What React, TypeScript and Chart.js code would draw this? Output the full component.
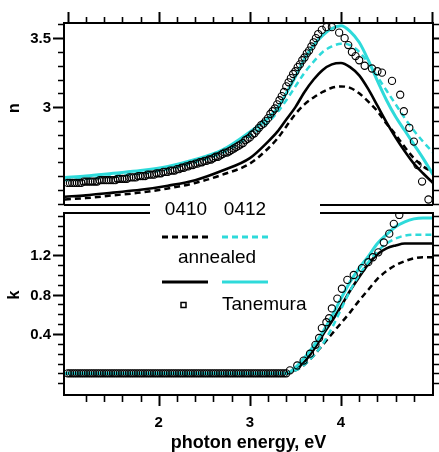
import React, { useEffect, useRef } from "react";
import { Chart, registerables } from "chart.js";

Chart.register(...registerables);

const FONT = '"Liberation Sans", Arial, Helvetica, sans-serif';
const CYAN = "#2edada";
const X_MIN = 0.96;
const X_MAX = 5.01;

// ---------- refractive index n (top panel) ----------
const nEnergy = [0.97, 1.2, 1.5, 1.8, 2.1, 2.4, 2.7, 3.0, 3.2, 3.3, 3.4, 3.5, 3.6, 3.7, 3.8, 3.9, 4.0, 4.1, 4.2, 4.3, 4.4, 4.5, 4.6, 4.7, 4.8, 4.9, 5.01];
const n0410 = [2.33, 2.34, 2.36, 2.38, 2.41, 2.45, 2.51, 2.59, 2.70, 2.77, 2.86, 2.95, 3.02, 3.07, 3.11, 3.14, 3.15, 3.14, 3.10, 3.04, 2.97, 2.88, 2.80, 2.71, 2.63, 2.57, 2.53];
const n0412 = [2.47, 2.48, 2.50, 2.52, 2.55, 2.60, 2.67, 2.79, 2.89, 2.96, 3.05, 3.15, 3.25, 3.33, 3.40, 3.44, 3.46, 3.45, 3.40, 3.32, 3.22, 3.12, 3.02, 2.92, 2.83, 2.75, 2.67];
const n0410Annealed = [2.35, 2.36, 2.38, 2.40, 2.43, 2.47, 2.54, 2.63, 2.75, 2.82, 2.91, 3.00, 3.11, 3.20, 3.27, 3.31, 3.32, 3.29, 3.23, 3.13, 3.01, 2.89, 2.78, 2.68, 2.59, 2.52, 2.45];
const n0412Annealed = [2.49, 2.50, 2.52, 2.54, 2.57, 2.62, 2.69, 2.82, 2.92, 2.99, 3.10, 3.22, 3.35, 3.45, 3.52, 3.57, 3.59, 3.55, 3.47, 3.34, 3.19, 3.05, 2.93, 2.83, 2.73, 2.63, 2.51];

// Tanemura measured points: densely sampled below the gap
const tanemuraDenseEnergy = [
  1.000, 1.025, 1.050, 1.075, 1.100, 1.125, 1.150, 1.175, 1.200, 1.225, 1.250, 1.275, 1.300, 1.325, 1.350, 1.375, 1.400, 1.425, 1.450, 1.475,
  1.500, 1.525, 1.550, 1.575, 1.600, 1.625, 1.650, 1.675, 1.700, 1.725, 1.750, 1.775, 1.800, 1.825, 1.850, 1.875, 1.900, 1.925, 1.950, 1.975,
  2.000, 2.025, 2.050, 2.075, 2.100, 2.125, 2.150, 2.175, 2.200, 2.225, 2.250, 2.275, 2.300, 2.325, 2.350, 2.375, 2.400, 2.425, 2.450, 2.475,
  2.500, 2.525, 2.550, 2.575, 2.600, 2.625, 2.650, 2.675, 2.700, 2.725, 2.750, 2.775, 2.800, 2.825, 2.850, 2.875, 2.900, 2.925, 2.950, 2.975,
  3.000, 3.025, 3.050, 3.075, 3.100, 3.125, 3.150, 3.175, 3.200, 3.225, 3.250, 3.275, 3.300, 3.325, 3.350, 3.375, 3.400, 3.425, 3.450, 3.475,
  3.500, 3.525, 3.550, 3.575, 3.600, 3.625, 3.650, 3.675, 3.700, 3.725, 3.750,
];
const tanemuraEnergyN = [
  ...tanemuraDenseEnergy,
  3.79, 3.84, 3.90, 3.98, 4.04, 4.08, 4.12, 4.16, 4.20, 4.26, 4.34, 4.40, 4.45, 4.56, 4.65, 4.69, 4.75, 4.80, 4.84, 4.89, 4.96,
];
const tanemuraN = [
  2.45, 2.45, 2.45, 2.45, 2.45, 2.45, 2.45, 2.46, 2.46, 2.46, 2.46, 2.46, 2.46, 2.46, 2.47, 2.47, 2.47, 2.47, 2.47, 2.47,
  2.47, 2.47, 2.48, 2.48, 2.48, 2.48, 2.48, 2.49, 2.49, 2.49, 2.49, 2.50, 2.50, 2.50, 2.50, 2.51, 2.51, 2.51, 2.51, 2.52,
  2.52, 2.52, 2.53, 2.53, 2.53, 2.54, 2.54, 2.54, 2.55, 2.55, 2.56, 2.56, 2.57, 2.57, 2.58, 2.58, 2.59, 2.59, 2.60, 2.60,
  2.61, 2.61, 2.62, 2.62, 2.63, 2.64, 2.64, 2.65, 2.66, 2.67, 2.67, 2.68, 2.69, 2.70, 2.71, 2.72, 2.73, 2.74, 2.76, 2.77,
  2.78, 2.80, 2.81, 2.83, 2.85, 2.87, 2.88, 2.90, 2.92, 2.95, 2.97, 2.99, 3.02, 3.05, 3.08, 3.11, 3.15, 3.18, 3.21, 3.24,
  3.26, 3.29, 3.31, 3.34, 3.36, 3.39, 3.41, 3.44, 3.47, 3.50, 3.53,
  3.56, 3.58, 3.58, 3.54, 3.50, 3.45, 3.40, 3.37, 3.34, 3.30, 3.28, 3.26, 3.25, 3.19, 3.09, 2.97, 2.85, 2.75, 2.58, 2.46, 2.33,
];

// ---------- extinction coefficient k (bottom panel) ----------
const kEnergy = [0.97, 1.5, 2.0, 2.5, 3.0, 3.3, 3.4, 3.5, 3.6, 3.7, 3.8, 3.9, 4.0, 4.1, 4.2, 4.3, 4.4, 4.5, 4.6, 4.7, 4.8, 4.9, 5.01];
const k0410 = [0, 0, 0, 0, 0, 0, 0, 0.03, 0.09, 0.18, 0.29, 0.40, 0.51, 0.62, 0.74, 0.85, 0.96, 1.04, 1.10, 1.14, 1.17, 1.18, 1.18];
const k0412 = [0, 0, 0, 0, 0, 0, 0, 0.03, 0.09, 0.18, 0.30, 0.46, 0.65, 0.84, 1.00, 1.13, 1.24, 1.32, 1.37, 1.40, 1.41, 1.41, 1.41];
const k0410Annealed = [0, 0, 0, 0, 0, 0, 0, 0.04, 0.12, 0.24, 0.39, 0.53, 0.68, 0.84, 0.98, 1.11, 1.21, 1.27, 1.30, 1.32, 1.32, 1.32, 1.32];
const k0412Annealed = [0, 0, 0, 0, 0, 0, 0, 0.06, 0.16, 0.28, 0.42, 0.58, 0.76, 0.93, 1.07, 1.19, 1.32, 1.41, 1.49, 1.54, 1.57, 1.58, 1.58];

const tanemuraEnergyK = [
  ...tanemuraDenseEnergy.slice(0, 97),
  3.44, 3.52, 3.59, 3.66, 3.72, 3.76, 3.79, 3.84, 3.87, 3.90, 3.96, 4.01, 4.07, 4.14, 4.23, 4.30, 4.35, 4.41, 4.47, 4.53, 4.58, 4.64,
];
const tanemuraK = [
  0, 0, 0, 0, 0, 0, 0, 0, 0, 0, 0, 0, 0, 0, 0, 0, 0, 0, 0, 0,
  0, 0, 0, 0, 0, 0, 0, 0, 0, 0, 0, 0, 0, 0, 0, 0, 0, 0, 0, 0,
  0, 0, 0, 0, 0, 0, 0, 0, 0, 0, 0, 0, 0, 0, 0, 0, 0, 0, 0, 0,
  0, 0, 0, 0, 0, 0, 0, 0, 0, 0, 0, 0, 0, 0, 0, 0, 0, 0, 0, 0,
  0, 0, 0, 0, 0, 0, 0, 0, 0, 0, 0, 0, 0, 0, 0, 0, 0,
  0.03, 0.08, 0.13, 0.20, 0.29, 0.36, 0.46, 0.52, 0.56, 0.66, 0.76, 0.86, 0.95, 1.00, 1.07, 1.13, 1.18, 1.23, 1.33, 1.42, 1.52, 1.61,
];

// ---------- axes / ticks ----------
const N_MIN = 2.29;
const N_MAX = 3.61;
const K_MIN = -0.22;
const K_MAX = 1.63;
const nLabelValues = [3, 3.5];
const nLabelTexts = ["3", "3.5"];
const kLabelValues = [0.4, 0.8, 1.2];
const kLabelTexts = ["0.4", "0.8", "1.2"];
const xLabelValues = [2, 3, 4];
const xLabelTexts = ["2", "3", "4"];
const xTitle = "photon energy, eV";

function steps(a: number, b: number, s: number) {
  const out: number[] = [];
  for (let i = 0; a + i * s <= b + 1e-9; i++) out.push(Math.round((a + i * s) * 100) / 100);
  return out;
}
const isInt = (v: number) => Math.abs(v - Math.round(v)) < 1e-6;

const GAP_L = 150;
const GAP_R = 320;

function pts(xs: number[], ys: number[]) {
  return xs.map((x, i) => ({ x, y: ys[i] }));
}
function lineDs(label: string, xs: number[], ys: number[], color: string, dashed: boolean, width: number) {
  return {
    label,
    data: pts(xs, ys),
    showLine: true,
    borderColor: color,
    backgroundColor: color,
    borderWidth: width,
    borderDash: dashed ? [6, 4] : [],
    pointRadius: 0,
    cubicInterpolationMode: "monotone" as const,
    fill: false,
  };
}
function circleDs(xs: number[], ys: number[]) {
  return {
    label: "Tanemura",
    data: pts(xs, ys),
    showLine: false,
    pointStyle: "circle",
    pointRadius: 3.6,
    borderColor: "#000",
    borderWidth: 1.1,
    backgroundColor: "rgba(0,0,0,0)",
  };
}

function drawYTicks(ctx: CanvasRenderingContext2D, chart: any, minor: number[], major: number[]) {
  const a = chart.chartArea;
  const y = chart.scales.y;
  for (const v of minor) {
    const isMaj = major.some((m) => Math.abs(m - v) < 1e-6);
    const py = Math.round(y.getPixelForValue(v)) + 0.5;
    const len = isMaj ? 11 : 6;
    ctx.lineWidth = isMaj ? 2 : 1.6;
    ctx.beginPath();
    ctx.moveTo(a.left - len, py);
    ctx.lineTo(a.left, py);
    ctx.moveTo(a.right, py);
    ctx.lineTo(a.right + len, py);
    ctx.stroke();
  }
}

const topPlugin = {
  id: "topFrame",
  afterDatasetsDraw(chart: any) {
    const { ctx, chartArea: a, scales } = chart;
    const x = scales.x;
    ctx.save();
    ctx.strokeStyle = "#000";
    ctx.fillStyle = "#000";
    ctx.lineWidth = 2;
    ctx.beginPath();
    ctx.moveTo(a.left, a.bottom);
    ctx.lineTo(a.left, a.top);
    ctx.lineTo(a.right, a.top);
    ctx.lineTo(a.right, a.bottom);
    ctx.moveTo(a.left, a.bottom);
    ctx.lineTo(GAP_L, a.bottom);
    ctx.moveTo(GAP_R, a.bottom);
    ctx.lineTo(a.right, a.bottom);
    ctx.stroke();
    for (const v of steps(1.0, 5.0, 0.2)) {
      const px = Math.round(x.getPixelForValue(v)) + 0.5;
      const len = isInt(v) ? 11 : 6;
      ctx.lineWidth = isInt(v) ? 2 : 1.6;
      ctx.beginPath();
      ctx.moveTo(px, a.top - len);
      ctx.lineTo(px, a.top);
      ctx.stroke();
    }
    drawYTicks(ctx, chart, steps(2.3, 3.6, 0.1), nLabelValues);
    ctx.font = `bold 15px ${FONT}`;
    ctx.textAlign = "right";
    ctx.textBaseline = "middle";
    nLabelValues.forEach((v, i) => {
      ctx.fillText(nLabelTexts[i], a.left - 13, chart.scales.y.getPixelForValue(v) + 1);
    });
    ctx.save();
    ctx.translate(15, a.top + 85);
    ctx.rotate(-Math.PI / 2);
    ctx.textAlign = "center";
    ctx.font = `bold 16px ${FONT}`;
    ctx.fillText("n", 0, 0);
    ctx.restore();
    ctx.restore();
  },
};

const bottomPlugin = {
  id: "bottomFrame",
  afterDatasetsDraw(chart: any) {
    const { ctx, chartArea: a, scales } = chart;
    const x = scales.x;
    ctx.save();
    ctx.strokeStyle = "#000";
    ctx.fillStyle = "#000";
    ctx.lineWidth = 2;
    ctx.beginPath();
    ctx.moveTo(GAP_L, a.top);
    ctx.lineTo(a.left, a.top);
    ctx.lineTo(a.left, a.bottom);
    ctx.lineTo(a.right, a.bottom);
    ctx.lineTo(a.right, a.top);
    ctx.lineTo(GAP_R, a.top);
    ctx.stroke();
    for (const v of steps(1.2, 4.8, 0.2)) {
      const px = Math.round(x.getPixelForValue(v)) + 0.5;
      const len = isInt(v) ? 11 : 7;
      ctx.lineWidth = isInt(v) ? 2 : 1.6;
      ctx.beginPath();
      ctx.moveTo(px, a.bottom);
      ctx.lineTo(px, a.bottom + len);
      ctx.stroke();
    }
    drawYTicks(ctx, chart, steps(-0.1, 1.6, 0.1), kLabelValues);

    ctx.font = `bold 15px ${FONT}`;
    ctx.textAlign = "right";
    ctx.textBaseline = "middle";
    kLabelValues.forEach((v, i) => {
      ctx.fillText(kLabelTexts[i], a.left - 13, chart.scales.y.getPixelForValue(v) + 1);
    });
    ctx.textAlign = "center";
    xLabelValues.forEach((v, i) => {
      ctx.fillText(xLabelTexts[i], x.getPixelForValue(v), a.bottom + 28);
    });
    ctx.font = `bold 18px ${FONT}`;
    ctx.fillText(xTitle, (a.left + a.right) / 2, a.bottom + 48);
    ctx.save();
    ctx.translate(15, a.top + 82);
    ctx.rotate(-Math.PI / 2);
    ctx.font = `bold 16px ${FONT}`;
    ctx.fillText("k", 0, 0);
    ctx.restore();

    // legend
    const c1 = 185;
    const c2 = 245;
    const lw = 46;
    ctx.font = `19px ${FONT}`;
    ctx.textAlign = "center";
    ctx.fillText("0410", c1 + 1, a.top - 3);
    ctx.fillText("0412", c2, a.top - 3);
    ctx.fillText("annealed", 217, a.top + 45);
    ctx.textAlign = "left";
    ctx.fillText("Tanemura", 222, a.top + 92);
    const seg = (cx: number, yy: number, color: string, dashed: boolean, w: number) => {
      ctx.strokeStyle = color;
      ctx.lineWidth = w;
      ctx.setLineDash(dashed ? [6, 4] : []);
      ctx.beginPath();
      ctx.moveTo(cx - lw / 2, yy);
      ctx.lineTo(cx + lw / 2, yy);
      ctx.stroke();
    };
    seg(c1, a.top + 24, "#000", true, 3);
    seg(c2, a.top + 24, CYAN, true, 3);
    seg(c1, a.top + 69, "#000", false, 3);
    seg(c2, a.top + 69, CYAN, false, 3);
    ctx.setLineDash([]);
    ctx.strokeStyle = "#000";
    ctx.lineWidth = 1.5;
    ctx.strokeRect(181, a.top + 89.5, 5, 5);
    ctx.restore();
  },
};

function makeChart(canvas: HTMLCanvasElement, datasets: any[], yMin: number, yMax: number, padding: any, plugin: any) {
  return new Chart(canvas, {
    type: "scatter",
    data: { datasets },
    options: {
      animation: false,
      responsive: false,
      devicePixelRatio: 1,
      events: [],
      layout: { padding },
      plugins: { legend: { display: false }, tooltip: { enabled: false } },
      scales: {
        x: { type: "linear", min: X_MIN, max: X_MAX, display: false },
        y: { type: "linear", min: yMin, max: yMax, display: false },
      },
    } as any,
    plugins: [plugin],
  });
}

export default function App() {
  const topRef = useRef<HTMLCanvasElement>(null);
  const botRef = useRef<HTMLCanvasElement>(null);

  useEffect(() => {
    const top = makeChart(
      topRef.current!,
      [
        circleDs(tanemuraEnergyN, tanemuraN),
        lineDs("annealed 0412", nEnergy, n0412Annealed, CYAN, false, 3),
        lineDs("0412", nEnergy, n0412, CYAN, true, 2.5),
        lineDs("annealed 0410", nEnergy, n0410Annealed, "#000", false, 2.6),
        lineDs("0410", nEnergy, n0410, "#000", true, 2.5),
      ],
      N_MIN,
      N_MAX,
      { left: 64, right: 6, top: 23, bottom: 10 },
      topPlugin
    );
    const bot = makeChart(
      botRef.current!,
      [
        circleDs(tanemuraEnergyK, tanemuraK),
        lineDs("annealed 0412", kEnergy, k0412Annealed, CYAN, false, 3),
        lineDs("0412", kEnergy, k0412, CYAN, true, 2.5),
        lineDs("annealed 0410", kEnergy, k0410Annealed, "#000", false, 2.6),
        lineDs("0410", kEnergy, k0410, "#000", true, 2.5),
      ],
      K_MIN,
      K_MAX,
      { left: 64, right: 6, top: 18, bottom: 57 },
      bottomPlugin
    );
    return () => {
      top.destroy();
      bot.destroy();
    };
  }, []);

  return (
    <div style={{ position: "fixed", left: 0, top: 0, width: 439, height: 452, background: "#fff" }}>
      <canvas ref={topRef} width={439} height={215} style={{ position: "absolute", left: 0, top: 0, width: 439, height: 215 }} />
      <canvas ref={botRef} width={439} height={257} style={{ position: "absolute", left: 0, top: 195, width: 439, height: 257 }} />
    </div>
  );
}
